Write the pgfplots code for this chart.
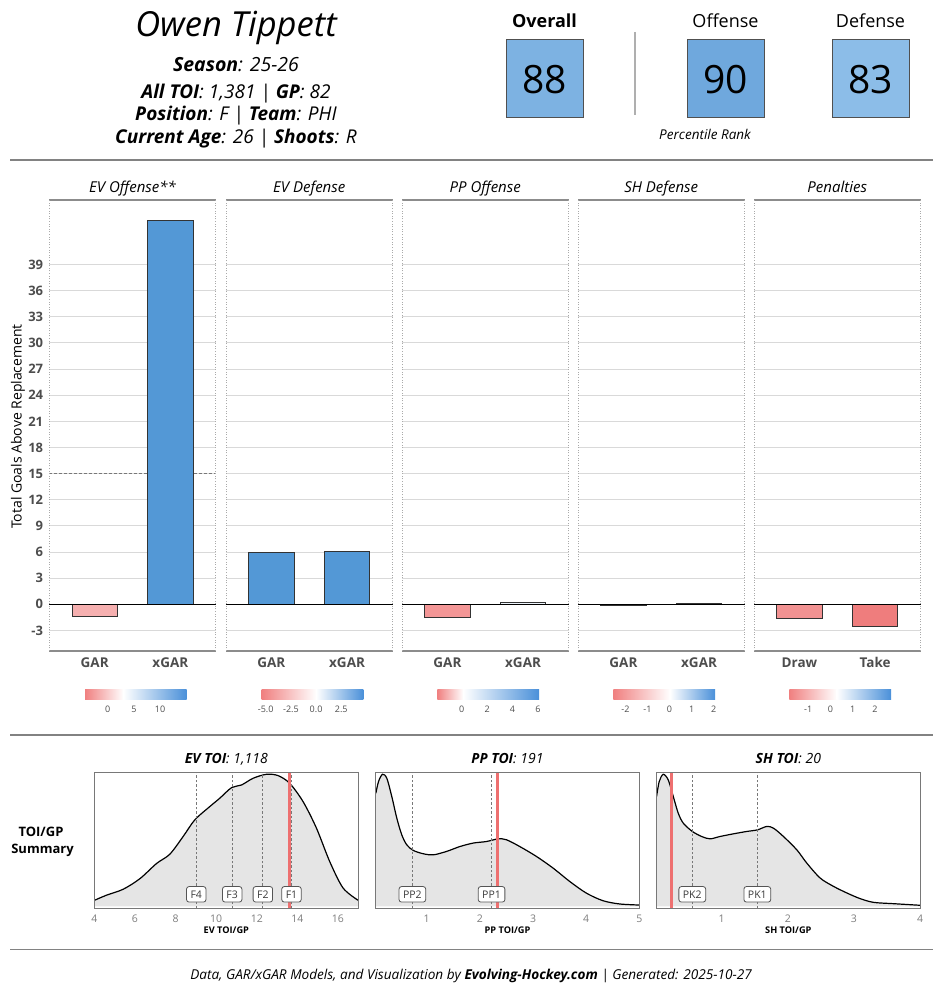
\documentclass[border=0pt]{standalone}
\usepackage{fontspec}
\setmainfont{Open Sans}
\usepackage{pgfplots}
\usepackage{pgfplotstable}
\pgfplotsset{compat=1.18}

\definecolor{blueBar}{RGB}{83,152,214}
\definecolor{redLight}{RGB}{246,176,176}
\definecolor{redPP}{RGB}{243,150,150}
\definecolor{redDraw}{RGB}{242,146,146}
\definecolor{redTake}{RGB}{239,125,125}
\definecolor{nearW}{RGB}{236,243,250}
\definecolor{nearR}{RGB}{252,238,238}
\definecolor{barEdge}{RGB}{51,51,51}
\definecolor{gridc}{RGB}{217,217,217}
\definecolor{stripc}{RGB}{140,140,140}
\definecolor{dotc}{RGB}{170,170,170}
\definecolor{dashc}{RGB}{120,120,120}
\definecolor{tickc}{RGB}{77,77,77}
\definecolor{tickgrey}{RGB}{125,125,125}
\definecolor{sepc}{RGB}{130,130,130}
\definecolor{vsep}{RGB}{175,175,175}
\definecolor{box88}{RGB}{125,178,226}
\definecolor{box90}{RGB}{111,168,221}
\definecolor{box83}{RGB}{140,189,232}
\definecolor{boxedge}{RGB}{80,80,80}
\definecolor{densfill}{RGB}{229,229,229}
\definecolor{boxc}{RGB}{120,120,120}
\definecolor{redline}{RGB}{238,112,112}
\definecolor{cbred}{RGB}{240,128,128}
\definecolor{cbblue}{RGB}{74,144,217}
\definecolor{labc}{RGB}{85,85,85}
\definecolor{labtext}{RGB}{60,60,60}

\pgfplotstableread{
x y
4.00 0.045
4.61 0.085
5.43 0.130
6.25 0.210
7.07 0.325
7.72 0.395
8.38 0.530
8.95 0.655
9.69 0.756
10.18 0.819
10.76 0.899
11.25 0.919
11.82 0.970
12.48 1.000
13.05 0.990
13.62 0.932
14.28 0.793
14.94 0.592
15.59 0.340
16.25 0.139
17.00 0.045
}\evdens

\pgfplotstableread{
x y
0.043 0.856
0.093 0.945
0.168 1.000
0.249 0.970
0.343 0.831
0.437 0.668
0.530 0.542
0.624 0.466
0.749 0.423
0.937 0.398
1.124 0.390
1.375 0.416
1.625 0.453
1.874 0.479
2.126 0.491
2.343 0.511
2.501 0.504
2.750 0.453
3.064 0.378
3.376 0.290
3.689 0.189
4.000 0.101
4.313 0.043
4.627 0.018
4.990 0.010
}\ppdens

\pgfplotstableread{
x y
0.015 0.831
0.055 0.945
0.116 1.000
0.192 0.957
0.268 0.831
0.343 0.705
0.419 0.630
0.556 0.567
0.697 0.529
0.823 0.511
0.975 0.529
1.177 0.549
1.379 0.567
1.540 0.579
1.682 0.605
1.783 0.592
1.934 0.529
2.136 0.428
2.288 0.327
2.490 0.214
2.692 0.151
2.894 0.101
3.096 0.058
3.298 0.030
3.601 0.020
4.000 0.008
}\shdens

\pgfplotsset{
  /pgf/number format/assume math mode=true,
  barp/.style={anchor=south west, scale only axis, width=166.5pt, height=451pt,
    xmin=0.4, xmax=2.6, ymin=-5.36, ymax=46.4,
    xtick={1,2}, ytick={-3,0,...,39},
    major tick length=0pt, axis line style={draw=none},
    ymajorgrids, grid style={color=gridc, line width=0.9pt},
    yticklabels={},
    xticklabel style={font=\fontsize{13.5}{16}\selectfont\bfseries, text=tickc, anchor=north, inner sep=0pt, yshift=-6.5pt},
    clip=false},
  cbp/.style={anchor=south west, scale only axis, width=101.7pt, height=9.7pt,
    ymin=0, ymax=1, ytick=\empty, major tick length=0pt, axis line style={draw=none},
    xticklabel style={font=\fontsize{9}{11}\selectfont, text=tickc, anchor=north, inner sep=0pt, yshift=-6.5pt}},
  dp/.style={anchor=south west, scale only axis, height=136pt,
    ymin=-0.015, ymax=1.015, ytick=\empty, major tick length=0pt,
    axis line style={draw=boxc, line width=0.9pt}, axis on top,
    xticklabel style={font=\fontsize{10.5}{12}\selectfont, text=tickgrey, anchor=north, inner sep=0pt, yshift=-6.5pt}},
}
\tikzset{
  flab/.style={draw=labc, line width=0.8pt, rounded corners=2.5pt, fill=white,
    font=\fontsize{10.5}{12}\selectfont, text=labtext, inner xsep=4pt, inner ysep=0pt, minimum height=15.5pt},
}
\newcommand{\borders}{%
  \draw[stripc, line width=1.6pt] (rel axis cs:0,1) -- (rel axis cs:1,1);
  \draw[stripc, line width=1.3pt] (rel axis cs:0,0) -- (rel axis cs:1,0);
  \draw[dotc, dash pattern=on 1pt off 1.6pt, line width=0.8pt] (rel axis cs:0,0) -- (rel axis cs:0,1);
  \draw[dotc, dash pattern=on 1pt off 1.6pt, line width=0.8pt] (rel axis cs:1,0) -- (rel axis cs:1,1);
}

\begin{document}
\begin{tikzpicture}
\path[use as bounding box] (0pt,0pt) rectangle (941pt,-1000pt);

% ================= BAR PANELS =================
\begin{axis}[barp, at={(49.3pt,-651pt)},
  yticklabels={-3,0,3,6,9,12,15,18,21,24,27,30,33,36,39},
  yticklabel style={font=\fontsize{13}{15}\selectfont\bfseries, text=tickc, anchor=east, inner sep=0pt, xshift=-6pt},
  xticklabels={GAR,xGAR}]
\addplot[dashc, dash pattern=on 3pt off 2pt, line width=0.9pt] coordinates {(0.4,15) (2.6,15)};
\addplot[ybar, bar width=0.6, bar shift=0pt, fill=redLight, draw=barEdge, line width=0.9pt] coordinates {(1,-1.42)};
\addplot[ybar, bar width=0.6, bar shift=0pt, fill=blueBar, draw=barEdge, line width=0.9pt] coordinates {(2,44.07)};
\addplot[black, line width=1.2pt] coordinates {(0.4,0) (2.6,0)};
\borders
\end{axis}

\begin{axis}[barp, at={(226pt,-651pt)}, xticklabels={GAR,xGAR}]
\addplot[ybar, bar width=0.6, bar shift=0pt, fill=blueBar, draw=barEdge, line width=0.9pt] coordinates {(1,5.98)};
\addplot[ybar, bar width=0.6, bar shift=0pt, fill=blueBar, draw=barEdge, line width=0.9pt] coordinates {(2,6.05)};
\addplot[black, line width=1.2pt] coordinates {(0.4,0) (2.6,0)};
\borders
\end{axis}

\begin{axis}[barp, at={(402pt,-651pt)}, xticklabels={GAR,xGAR}]
\addplot[ybar, bar width=0.6, bar shift=0pt, fill=redPP, draw=barEdge, line width=0.9pt] coordinates {(1,-1.48)};
\addplot[ybar, bar width=0.6, bar shift=0pt, fill=nearW, draw=barEdge, line width=0.9pt] coordinates {(2,0.17)};
\addplot[black, line width=1.2pt] coordinates {(0.4,0) (2.6,0)};
\borders
\end{axis}

\begin{axis}[barp, at={(578pt,-651pt)}, xticklabels={GAR,xGAR}]
\addplot[ybar, bar width=0.6, bar shift=0pt, fill=nearR, draw=barEdge, line width=0.9pt] coordinates {(1,-0.08)};
\addplot[ybar, bar width=0.6, bar shift=0pt, fill=nearW, draw=barEdge, line width=0.9pt] coordinates {(2,0.14)};
\addplot[black, line width=1.2pt] coordinates {(0.4,0) (2.6,0)};
\borders
\end{axis}

\begin{axis}[barp, at={(754pt,-651pt)}, xticklabels={Draw,Take}]
\addplot[ybar, bar width=0.6, bar shift=0pt, fill=redDraw, draw=barEdge, line width=0.9pt] coordinates {(1,-1.6)};
\addplot[ybar, bar width=0.6, bar shift=0pt, fill=redTake, draw=barEdge, line width=0.9pt] coordinates {(2,-2.56)};
\addplot[black, line width=1.2pt] coordinates {(0.4,0) (2.6,0)};
\borders
\end{axis}

% ================= COLOUR BARS =================
\begin{axis}[cbp, at={(85pt,-699pt)}, xmin=-4.33, xmax=15.07, xtick={0,5,10}, xticklabels={0,5,10}]
\addplot[draw=none, left color=cbred, right color=white] coordinates {(-4.33,1) (2.98,1)} \closedcycle;
\addplot[draw=none, left color=white, right color=cbblue] coordinates {(2.98,1) (15.07,1)} \closedcycle;
\end{axis}
\begin{axis}[cbp, at={(261.7pt,-699pt)}, xmin=-5.40, xmax=4.70, xtick={-5,-2.5,0,2.5}, xticklabels={-5.0,-2.5,0.0,2.5}]
\addplot[draw=none, left color=cbred, right color=white] coordinates {(-5.40,1) (0,1)} \closedcycle;
\addplot[draw=none, left color=white, right color=cbblue] coordinates {(0,1) (4.70,1)} \closedcycle;
\end{axis}
\begin{axis}[cbp, at={(437.3pt,-699pt)}, xmin=-1.91, xmax=6.08, xtick={0,2,4,6}, xticklabels={0,2,4,6}]
\addplot[draw=none, left color=cbred, right color=white] coordinates {(-1.91,1) (0.13,1)} \closedcycle;
\addplot[draw=none, left color=white, right color=cbblue] coordinates {(0.13,1) (6.08,1)} \closedcycle;
\end{axis}
\begin{axis}[cbp, at={(613.3pt,-699pt)}, xmin=-2.55, xmax=2.06, xtick={-2,-1,0,1,2}, xticklabels={-2,-1,0,1,2}]
\addplot[draw=none, left color=cbred, right color=white] coordinates {(-2.55,1) (0.02,1)} \closedcycle;
\addplot[draw=none, left color=white, right color=cbblue] coordinates {(0.02,1) (2.06,1)} \closedcycle;
\end{axis}
\begin{axis}[cbp, at={(789.3pt,-699pt)}, xmin=-1.85, xmax=2.72, xtick={-1,0,1,2}, xticklabels={-1,0,1,2}]
\addplot[draw=none, left color=cbred, right color=white] coordinates {(-1.85,1) (0.28,1)} \closedcycle;
\addplot[draw=none, left color=white, right color=cbblue] coordinates {(0.28,1) (2.72,1)} \closedcycle;
\end{axis}

% ================= DENSITY PANELS =================
\begin{axis}[dp, at={(94.3pt,-908.3pt)}, width=264pt, xmin=4, xmax=17, xtick={4,6,...,16}, xticklabels={4,6,8,10,12,14,16}]
\addplot[fill=densfill, draw=none, smooth] table {\evdens} \closedcycle;
\addplot[black, line width=1.2pt, smooth] table {\evdens};
\addplot[dashc, dash pattern=on 2.5pt off 2pt, line width=0.8pt] coordinates {(9.02,-0.015) (9.02,1.015)};
\addplot[dashc, dash pattern=on 2.5pt off 2pt, line width=0.8pt] coordinates {(10.79,-0.015) (10.79,1.015)};
\addplot[dashc, dash pattern=on 2.5pt off 2pt, line width=0.8pt] coordinates {(12.30,-0.015) (12.30,1.015)};
\addplot[dashc, dash pattern=on 2.5pt off 2pt, line width=0.8pt] coordinates {(13.71,-0.015) (13.71,1.015)};
\addplot[redline, line width=3.5pt] coordinates {(13.62,-0.015) (13.62,1.015)};
\node[flab] at (axis cs:9.02,0.091) {F4};
\node[flab] at (axis cs:10.79,0.091) {F3};
\node[flab] at (axis cs:12.30,0.091) {F2};
\node[flab] at (axis cs:13.71,0.091) {F1};
\end{axis}

\begin{axis}[dp, at={(375.7pt,-908.3pt)}, width=263.6pt, xmin=0.04, xmax=5, xtick={1,2,3,4,5}, xticklabels={1,2,3,4,5}]
\addplot[fill=densfill, draw=none, smooth] table {\ppdens} \closedcycle;
\addplot[black, line width=1.2pt, smooth] table {\ppdens};
\addplot[dashc, dash pattern=on 2.5pt off 2pt, line width=0.8pt] coordinates {(0.73,-0.015) (0.73,1.015)};
\addplot[dashc, dash pattern=on 2.5pt off 2pt, line width=0.8pt] coordinates {(2.22,-0.015) (2.22,1.015)};
\addplot[redline, line width=3.5pt] coordinates {(2.33,-0.015) (2.33,1.015)};
\node[flab] at (axis cs:0.73,0.091) {PP2};
\node[flab] at (axis cs:2.22,0.091) {PP1};
\end{axis}

\begin{axis}[dp, at={(656.7pt,-908.3pt)}, width=263.3pt, xmin=0.017, xmax=4, xtick={1,2,3,4}, xticklabels={1,2,3,4}]
\addplot[fill=densfill, draw=none, smooth] table {\shdens} \closedcycle;
\addplot[black, line width=1.2pt, smooth] table {\shdens};
\addplot[dashc, dash pattern=on 2.5pt off 2pt, line width=0.8pt] coordinates {(0.555,-0.015) (0.555,1.015)};
\addplot[dashc, dash pattern=on 2.5pt off 2pt, line width=0.8pt] coordinates {(1.539,-0.015) (1.539,1.015)};
\addplot[redline, line width=3.5pt] coordinates {(0.244,-0.015) (0.244,1.015)};
\node[flab] at (axis cs:0.555,0.091) {PK2};
\node[flab] at (axis cs:1.539,0.091) {PK1};
\end{axis}

% ================= TEXT AND FRAME =================
\begin{scope}[x=1pt,y=-1pt]
% header left
\node[anchor=base, font=\fontsize{34.5}{40}\selectfont\itshape] at (236,37) {Owen Tippett};
\node[anchor=base, font=\fontsize{19.5}{23}\selectfont\itshape] at (236,71.7) {\textbf{Season}: 25-26};
\node[anchor=base, font=\fontsize{19}{23}\selectfont\itshape] at (236,98.3) {\textbf{All TOI}: 1,381 | \textbf{GP}: 82};
\node[anchor=base, font=\fontsize{19}{23}\selectfont\itshape] at (236,121) {\textbf{Position}: F | \textbf{Team}: PHI};
\node[anchor=base, font=\fontsize{19}{23}\selectfont\itshape] at (236,143.3) {\textbf{Current Age}: 26 | \textbf{Shoots}: R};
% header right
\node[anchor=base, font=\fontsize{18}{22}\selectfont\bfseries] at (544.5,27.7) {Overall};
\node[anchor=base, font=\fontsize{18}{22}\selectfont] at (725.5,27.7) {Offense};
\node[anchor=base, font=\fontsize{18}{22}\selectfont] at (870.5,27.7) {Defense};
\node[draw=boxedge, line width=0.8pt, fill=box88, minimum width=77pt, minimum height=78pt, inner sep=0pt] at (544.5,78) {};
\node[draw=boxedge, line width=0.8pt, fill=box90, minimum width=77pt, minimum height=78pt, inner sep=0pt] at (725.5,78) {};
\node[draw=boxedge, line width=0.8pt, fill=box83, minimum width=77pt, minimum height=78pt, inner sep=0pt] at (870.5,78) {};
\node[anchor=base, font=\fontsize{39}{44}\selectfont] at (544.5,93.3) {88};
\node[anchor=base, font=\fontsize{39}{44}\selectfont] at (725.5,93.3) {90};
\node[anchor=base, font=\fontsize{39}{44}\selectfont] at (870.5,93.3) {83};
\draw[vsep, line width=1.5pt] (635,32) -- (635,115);
\node[anchor=base, font=\fontsize{13.5}{16}\selectfont\itshape] at (705,139.3) {Percentile Rank};
% separators
\draw[sepc, line width=1.2pt] (10,160) -- (933,160);
\draw[sepc, line width=1.2pt] (10,735) -- (933,735);
\draw[sepc, line width=1.2pt] (10,949.5) -- (933,949.5);
% panel titles
\node[anchor=base, font=\fontsize{15}{18}\selectfont\itshape] at (132.5,192.3) {EV Offense**};
\node[anchor=base, font=\fontsize{15}{18}\selectfont\itshape] at (309.25,192.3) {EV Defense};
\node[anchor=base, font=\fontsize{15}{18}\selectfont\itshape] at (485.25,192.3) {PP Offense};
\node[anchor=base, font=\fontsize{15}{18}\selectfont\itshape] at (661.25,192.3) {SH Defense};
\node[anchor=base, font=\fontsize{15}{18}\selectfont\itshape] at (837.25,192.3) {Penalties};
\node[rotate=90, font=\fontsize{14}{16}\selectfont] at (18,426.5) {Total Goals Above Replacement};
% density texts
\node[anchor=base, font=\fontsize{13}{15}\selectfont\bfseries] at (41,836.7) {TOI/GP};
\node[anchor=base, font=\fontsize{13}{15}\selectfont\bfseries] at (42.5,853.8) {Summary};
\node[anchor=base, font=\fontsize{14}{16}\selectfont\itshape] at (226.3,763.3) {\textbf{EV TOI}: 1,118};
\node[anchor=base, font=\fontsize{14}{16}\selectfont\itshape] at (507.5,763.3) {\textbf{PP TOI}: 191};
\node[anchor=base, font=\fontsize{14}{16}\selectfont\itshape] at (788.35,763.3) {\textbf{SH TOI}: 20};
\node[anchor=base, font=\fontsize{9.2}{11}\selectfont\bfseries] at (226.3,933.3) {EV TOI/GP};
\node[anchor=base, font=\fontsize{9.2}{11}\selectfont\bfseries] at (507.5,933.3) {PP TOI/GP};
\node[anchor=base, font=\fontsize{9.2}{11}\selectfont\bfseries] at (788.35,933.3) {SH TOI/GP};
% footer
\node[anchor=base, font=\fontsize{13.6}{16}\selectfont\itshape] at (471,979) {Data, GAR/xGAR Models, and Visualization by \textbf{Evolving-Hockey.com} | Generated: 2025-10-27};
\end{scope}
\end{tikzpicture}
\end{document}
